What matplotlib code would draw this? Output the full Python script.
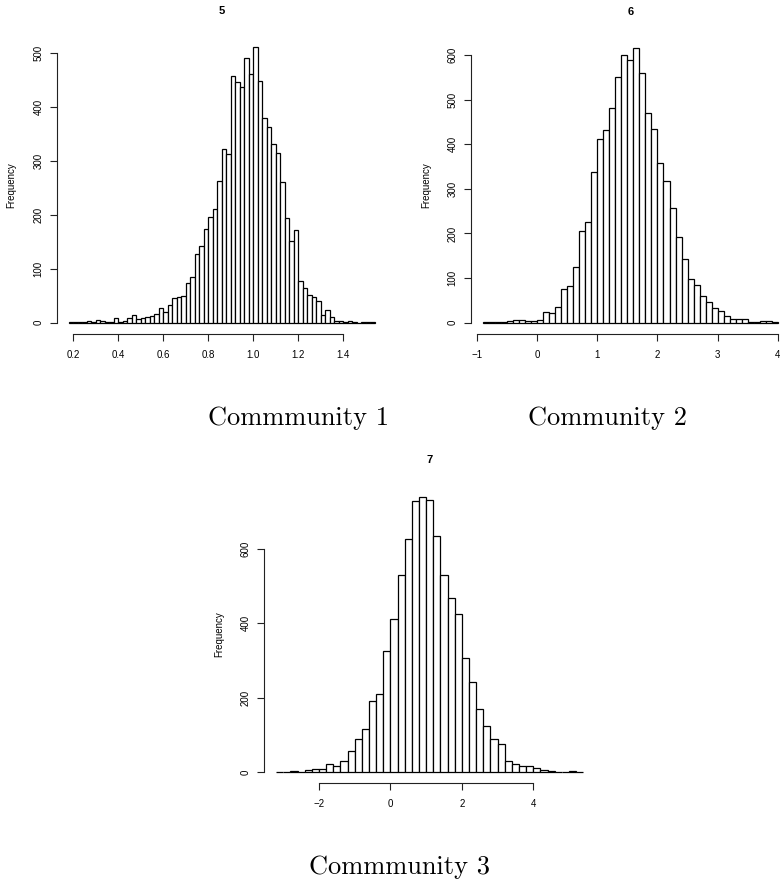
import numpy as np
import matplotlib
matplotlib.use("Agg")
import matplotlib.pyplot as plt
from matplotlib.transforms import ScaledTranslation

plt.rcParams['font.family'] = ['Liberation Sans', 'DejaVu Sans']

# community 1 (title "5"), bins of 0.02 starting at 0.18
c1_start, c1_width = 0.18, 0.02
c1_counts = [2, 1, 2, 1, 3, 1, 5, 3, 1, 2, 8, 2, 3, 8, 14, 6, 8, 10, 12, 16,
             27, 19, 33, 46, 47, 49, 73, 85, 127, 142, 174, 195, 210, 262,
             322, 312, 457, 445, 437, 491, 461, 510, 447, 379, 362, 331, 315,
             261, 194, 152, 171, 77, 65, 52, 48, 41, 14, 23, 10, 4, 3, 2, 4,
             1, 0, 2, 1, 1]
c1_xticks = [0.2, 0.4, 0.6, 0.8, 1.0, 1.2, 1.4]
c1_xlabels = ['0.2', '0.4', '0.6', '0.8', '1.0', '1.2', '1.4']
c1_yticks = [0, 100, 200, 300, 400, 500]

# community 2 (title "6"), bins of 0.1 starting at -0.9
c2_start, c2_width = -0.9, 0.1
c2_counts = [1, 1, 2, 1, 3, 5, 5, 3, 4, 7, 25, 22, 36, 76, 83, 125, 205, 226,
             338, 412, 432, 480, 550, 600, 589, 616, 559, 469, 435, 357, 318,
             256, 192, 142, 99, 84, 60, 46, 32, 26, 16, 9, 8, 8, 1, 2, 4, 4, 1]
c2_xticks = [-1, 0, 1, 2, 3, 4]
c2_xlabels = ['\u22121', '0', '1', '2', '3', '4']
c2_yticks = [0, 100, 200, 300, 400, 500, 600]

# community 3 (title "7"), bins of 0.2 starting at -3.2
c3_start, c3_width = -3.2, 0.2
c3_counts = [1, 0, 3, 0, 4, 9, 9, 21, 16, 30, 56, 88, 115, 191, 210, 326, 412,
             529, 626, 729, 741, 733, 636, 530, 469, 424, 308, 241, 169, 123,
             90, 74, 30, 21, 15, 15, 10, 5, 3, 0, 0, 2, 1]
c3_xticks = [-2, 0, 2, 4]
c3_xlabels = ['\u22122', '0', '2', '4']
c3_yticks = [0, 200, 400, 600]

titles = ['5', '6', '7']
captions = ['Commmunity 1', 'Community 2', 'Commmunity 3']

W, H = 780, 890
fig = plt.figure(figsize=(W / 100, H / 100), dpi=100)


def px_axes(left, top, right, bottom):
    return fig.add_axes([left / W, 1 - bottom / H, (right - left) / W, (bottom - top) / H])


def r_hist(ax, start, width, counts, xticks, xlabels, yticks, title):
    counts = np.array(counts)
    edges = start + width * np.arange(len(counts) + 1)
    ax.bar(edges[:-1], counts, width=width, align='edge', color='white',
           edgecolor='black', linewidth=0.9)
    # R style 4% padding
    xr = edges[-1] - edges[0]
    ax.set_xlim(edges[0] - 0.04 * xr, edges[-1] + 0.04 * xr)
    ymax = counts.max()
    ax.set_ylim(-0.04 * ymax, ymax * 1.04)
    for s in ['top', 'right']:
        ax.spines[s].set_visible(False)
    ax.spines['bottom'].set_bounds(xticks[0], xticks[-1])
    ax.spines['left'].set_bounds(yticks[0], yticks[-1])
    for s in ['bottom', 'left']:
        ax.spines[s].set_linewidth(0.8)
        ax.spines[s].set_color('#222222')
    ax.set_xticks(xticks)
    ax.set_xticklabels(xlabels, fontsize=7)
    ax.set_yticks(yticks)
    ax.set_yticklabels([str(v) for v in yticks], fontsize=7, rotation=90, va='center')
    ax.tick_params(axis='x', length=5, width=0.8, pad=6.5, color='#222222')
    ax.tick_params(axis='y', length=5, width=0.8, pad=4.5, color='#222222')
    ax.set_ylabel('Frequency', fontsize=7)
    ax.yaxis.set_label_coords(0, 0.5, transform=ax.transAxes + ScaledTranslation(-0.40, 0, fig.dpi_scale_trans))
    ax.set_title(title, fontsize=8, fontweight='bold', pad=16)


ax1 = px_axes(56.6, 36.3, 387.0, 333.7)
r_hist(ax1, c1_start, c1_width, c1_counts, c1_xticks, c1_xlabels, c1_yticks, titles[0])

ax2 = px_axes(470.9, 36.8, 789.8, 333.7)
r_hist(ax2, c2_start, c2_width, c2_counts, c2_xticks, c2_xlabels, c2_yticks, titles[1])

ax3 = px_axes(263.8, 485.6, 595.6, 783.0)
r_hist(ax3, c3_start, c3_width, c3_counts, c3_xticks, c3_xlabels, c3_yticks, titles[2])

cap_kw = dict(family='cmr10', fontsize=19, ha='center', va='baseline')
fig.text(298 / W, 1 - 425 / H, captions[0], **cap_kw)
fig.text(608 / W, 1 - 425 / H, captions[1], **cap_kw)
fig.text(400 / W, 1 - 874 / H, captions[2], **cap_kw)

fig.savefig('out.png', dpi=100)
